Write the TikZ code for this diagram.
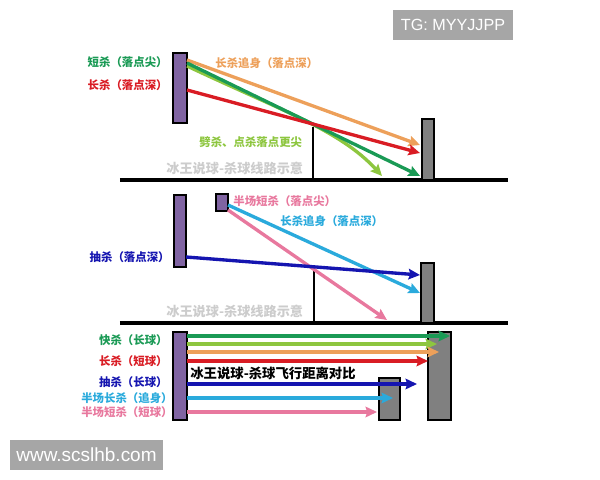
\documentclass[tikz,border=0pt]{standalone}
\usepackage{fontspec}
\setmainfont{Liberation Sans}
\newfontfamily\cjk{Noto Sans CJK SC}
\usepackage{tikz}
\usetikzlibrary{arrows.meta,positioning}
\usepackage{xcolor}

\definecolor{dkgreen}{HTML}{1A9A55}
\definecolor{ltgreen}{HTML}{8DC63F}
\definecolor{shotorange}{HTML}{EDA05A}
\definecolor{shotred}{HTML}{D91C24}
\definecolor{shotblue}{HTML}{1515B0}
\definecolor{shotcyan}{HTML}{2AAADC}
\definecolor{shotpink}{HTML}{E8789E}
\definecolor{playerpurple}{HTML}{8064A2}
\definecolor{wallgray}{HTML}{808080}
\definecolor{tagbg}{HTML}{A6A6A6}

\tikzset{
  pbar/.style={draw=black, line width=1pt, fill=playerpurple},
  wall/.style={draw=black, line width=1pt, fill=wallgray},
  ground/.style={line width=1.8pt},
  netpost/.style={line width=1.4pt},
  shot/.style={line width=1.9pt, -{Stealth[length=6.5pt,width=6pt,inset=1pt]}},
  lbl/.style={font=\cjk\bfseries\fontsize{6.5}{8}\selectfont, inner sep=0pt},
  wmark/.style={font=\cjk\bfseries\fontsize{7.5}{9}\selectfont, inner sep=0pt, text=gray!40},
  tag/.style={fill=tagbg, text=white, inner sep=0pt}
}

\begin{document}
\begin{tikzpicture}[x=0.02cm, y=-0.02cm]
\useasboundingbox (0,0) rectangle (600,480);

% Watermarks
\node[tag, minimum width=120*0.02cm, minimum height=30*0.02cm, font=\fontsize{9.2}{11}\selectfont] (tg) at (453,25) {TG: MYYJJPP};
\node[tag, minimum width=153*0.02cm, minimum height=30*0.02cm, font=\fontsize{10.8}{13}\selectfont] (url) at (86.5,455) {www.scslhb.com};

% Panel 1: smash lines
\draw[ground] (120,180) -- (508,180);
\draw[netpost] (313,127) -- (313,180);
\draw[pbar] (173,53) rectangle (187,123);
\draw[wall] (422,119) rectangle (434,180);

\coordinate (s1) at (187,60);
\coordinate (s2) at (187,63);
\coordinate (s3) at (187,66);
\coordinate (s4) at (187,90);
\coordinate (e1) at (420,145);
\coordinate (e2) at (420,176);
\coordinate (e3) at (382,176);
\coordinate (e4) at (420,153);

\draw[shot, shotorange] (s1) -- (e1);
\draw[shot, ltgreen] (s3) .. controls (280,110) and (340,130) .. (e3);
\draw[shot, dkgreen] (s2) -- (e2);
\draw[shot, shotred] (s4) -- (e4);

\node[lbl, text=dkgreen, anchor=east] (l1) at (168,62) {短杀（落点尖）};
\node[lbl, text=shotred, anchor=east] (l2) at (168,85) {长杀（落点深）};
\node[lbl, text=shotorange, anchor=west] (l3) at (215,63) {长杀追身（落点深）};
\node[lbl, text=ltgreen, anchor=west] (l4) at (199,142) {劈杀、点杀落点更尖};
\node[wmark, anchor=west] (m1) at (166,168) {冰王说球-杀球线路示意};

% Panel 2: smash lines
\draw[ground] (120,323) -- (508,323);
\draw[netpost] (314,271) -- (314,323);
\draw[pbar] (174,195) rectangle (186,267);
\draw[pbar] (216,194) rectangle (228,211);
\draw[wall] (421,263) rectangle (434,323);

\coordinate (t1) at (186,257);
\coordinate (t2) at (228,205);
\coordinate (t3) at (228,210);
\coordinate (f1) at (420,275);
\coordinate (f2) at (420,293);
\coordinate (f3) at (387,320);

\draw[shot, shotpink] (t3) -- (f3);
\draw[shot, shotcyan] (t2) -- (f2);
\draw[shot, shotblue] (t1) -- (f1);

\node[lbl, text=shotpink, anchor=west] (l5) at (233,201) {半场短杀（落点尖）};
\node[lbl, text=shotcyan, anchor=west] (l6) at (280,221) {长杀追身（落点深）};
\node[lbl, text=shotblue, anchor=east] (l7) at (170,257) {抽杀（落点深）};
\node[wmark, anchor=west] (m2) at (166,311) {冰王说球-杀球线路示意};

% Panel 3: flight distance
\draw[wall] (428,332) rectangle (451,420);
\draw[wall] (379,378) rectangle (400,420);
\draw[pbar] (173,332) rectangle (187,420);

\coordinate (u1) at (187,336);
\coordinate (u2) at (187,344);
\coordinate (u3) at (187,352);
\coordinate (u4) at (187,361);
\coordinate (u5) at (187,384);
\coordinate (u6) at (187,398);
\coordinate (u7) at (187,412);
\coordinate (v1) at (450,336);
\coordinate (v2) at (437,344);
\coordinate (v3) at (439,352);
\coordinate (v4) at (428,361);
\coordinate (v5) at (417,384);
\coordinate (v6) at (393,398);
\coordinate (v7) at (377,412);

\draw[shot, dkgreen] (u1) -- (v1);
\draw[shot, ltgreen] (u2) -- (v2);
\draw[shot, shotorange] (u3) -- (v3);
\draw[shot, shotred] (u4) -- (v4);
\draw[shot, shotblue] (u5) -- (v5);
\draw[shot, shotcyan] (u6) -- (v6);
\draw[shot, shotpink] (u7) -- (v7);

\node[lbl, text=dkgreen, anchor=east] (k1) at (168,340) {快杀（长球）};
\node[lbl, text=shotred, anchor=east] (k2) at (168,361) {长杀（短球）};
\node[lbl, text=shotblue, anchor=east] (k3) at (168,382) {抽杀（长球）};
\node[lbl, text=shotcyan, anchor=east] (k4) at (173,398) {半场长杀（追身）};
\node[lbl, text=shotpink, anchor=east] (k5) at (173,412) {半场短杀（短球）};
\node[lbl, font=\cjk\bfseries\fontsize{7.6}{9}\selectfont, anchor=west] (k6) at (190,373) {冰王说球-杀球飞行距离对比};

\end{tikzpicture}
\end{document}
